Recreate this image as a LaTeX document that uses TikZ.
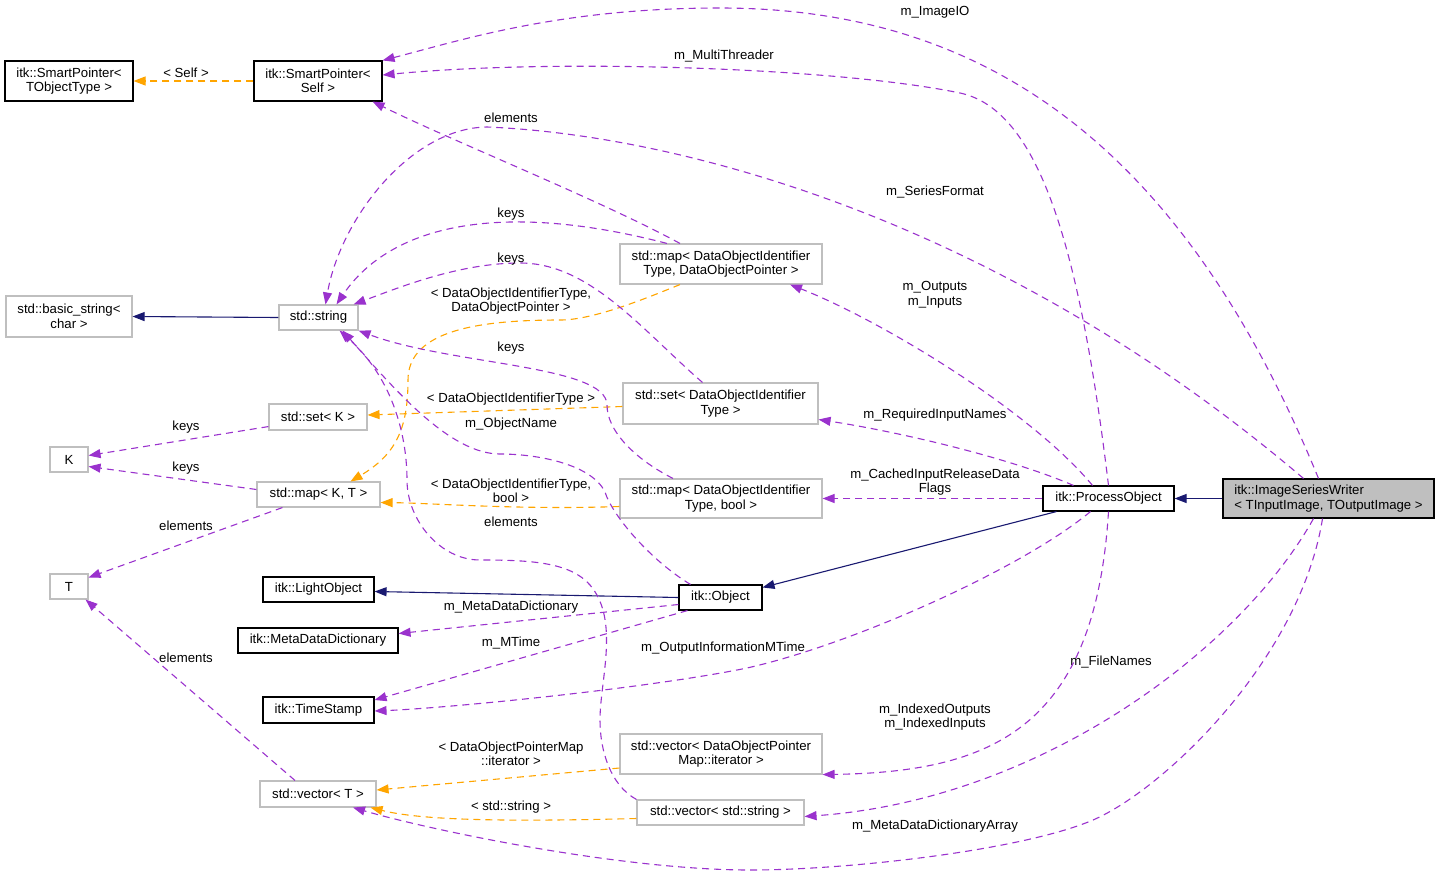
\documentclass[tikz,border=0pt]{standalone}
\usepackage{fontspec}
\setmainfont{Liberation Sans}
\usepackage{xcolor}
\usepackage{tikz}
\usetikzlibrary{arrows.meta,calc}
\definecolor{edgepurple}{HTML}{9A32CD}
\definecolor{edgeorange}{HTML}{FFA500}
\definecolor{edgenavy}{HTML}{191970}
\definecolor{boxgray}{HTML}{BFBFBF}
\newcommand{\dfont}{\fontsize{13.2}{14.5}\selectfont}

\begin{document}
\begin{tikzpicture}[
  x=1pt, y=-1pt,
  cls/.style={rectangle,draw=black,line width=1.1pt,fill=white,inner sep=0pt,align=center,minimum height=25pt,font=\dfont},
  ext/.style={cls,draw=boxgray},
  cur/.style={cls,fill=boxgray,align=left},
  lbl/.style={font=\dfont,align=center,inner sep=0pt},
  useedge/.style={draw=edgepurple,line width=1.1pt,dash pattern=on 7pt off 5pt,-{Triangle[length=12pt,width=9pt]}},
  tmpledge/.style={useedge,draw=edgeorange},
  baseedge/.style={draw=edgenavy,line width=1.1pt,-{Triangle[length=12pt,width=9pt]}}
]
\useasboundingbox (0,0) rectangle (1440,876);

% classes
\node[cls,minimum width=128pt,minimum height=40pt] (SPT) at (69,81) {itk::SmartPointer<\\TObjectType >};
\node[cls,minimum width=128pt,minimum height=40pt] (SPS) at (318,81) {itk::SmartPointer<\\Self >};
\node[ext,minimum width=126pt,minimum height=41pt] (bstr) at (69,316.5) {std::basic\_string<\\char >};
\node[ext,minimum width=79pt] (str) at (318.5,317.5) {std::string};
\node[ext,minimum width=98pt,minimum height=26pt] (setK) at (318,417) {std::set< K >};
\node[ext,minimum width=38pt] (K) at (69,459.5) {K};
\node[ext,minimum width=123pt] (mapKT) at (318.5,494.5) {std::map< K, T >};
\node[ext,minimum width=38pt] (T) at (69,586.5) {T};
\node[cls,minimum width=111pt] (LO) at (318.5,589.5) {itk::LightObject};
\node[cls,minimum width=160pt] (MDD) at (318,640.5) {itk::MetaDataDictionary};
\node[cls,minimum width=111pt,minimum height=26pt] (TS) at (318.5,710) {itk::TimeStamp};
\node[ext,minimum width=116pt,minimum height=26pt] (vecT) at (318,794) {std::vector< T >};
\node[ext,minimum width=202pt,minimum height=40pt] (mapDOP) at (721,264) {std::map< DataObjectIdentifier\\Type, DataObjectPointer >};
\node[ext,minimum width=195pt,minimum height=41pt] (setDOI) at (720.5,403.5) {std::set< DataObjectIdentifier\\Type >};
\node[ext,minimum width=202pt,minimum height=39pt] (mapDOIb) at (721,498.5) {std::map< DataObjectIdentifier\\Type, bool >};
\node[cls,minimum width=83pt] (Obj) at (720.5,597.5) {itk::Object};
\node[ext,minimum width=202pt,minimum height=40pt] (vecDOPM) at (721,754) {std::vector< DataObjectPointer\\Map::iterator >};
\node[ext,minimum width=167pt] (vecStr) at (720.5,812.5) {std::vector< std::string >};
\node[cls,minimum width=131pt] (PO) at (1108.5,498.5) {itk::ProcessObject};
\node[cur,minimum width=211pt,minimum height=39pt] (ISW) at (1328.5,498.5) {itk::ImageSeriesWriter\\< TInputImage, TOutputImage >};

% inheritance
\draw[baseedge] (str.west) -- (bstr.east);
\draw[baseedge] (Obj.west) -- ($(LO.east)+(0,2)$);
\draw[baseedge] ($(PO.south west)+(14,0)$) -- ($(Obj.north east)+(0,3)$);
\draw[baseedge] (ISW.west) -- (PO.east);

% template instances
\draw[tmpledge] (SPS.west) -- (SPT.east) node[lbl] at (186,73) {< Self >};
\draw[tmpledge] ($(setDOI.west)+(0,3)$) -- ($(setK.east)+(0,-2)$) node[lbl] at (511,399) {< DataObjectIdentifierType >};
\draw[tmpledge] ($(mapDOIb.west)+(0,8)$) .. controls (520,510) and (430,503) .. ($(mapKT.east)+(0,8)$) node[lbl] at (511,491) {< DataObjectIdentifierType,\\bool >};
\draw[tmpledge] ($(mapDOP.south)+(-41,0)$) .. controls (635,303) and (590,320) .. (560,320) .. controls (480,320) and (408,330) .. (408,380) .. controls (408,430) and (395,455) .. ($(mapKT.north)+(32,0)$) node[lbl] at (511,301) {< DataObjectIdentifierType,\\DataObjectPointer >};
\draw[tmpledge] ($(vecDOPM.west)+(0,14)$) -- ($(vecT.east)+(0,-4)$) node[lbl] at (511,754) {< DataObjectPointerMap\\::iterator >};
\draw[tmpledge] ($(vecStr.west)+(0,6)$) .. controls (500,822) and (420,820) .. ($(vecT.south east)+(-6,0)$) node[lbl] at (511,807) {< std::string >};

% members
\draw[useedge] ($(ISW.north)+(-10,0)$) .. controls (1180,140) and (980,8) .. (720,8) .. controls (560,8) and (462,40) .. (SPS.north east) node[lbl] at (935,12) {m\_ImageIO};
\draw[useedge] (PO.north) .. controls (1080,250) and (1040,110) .. (960,93) .. controls (840,68) and (560,58) .. ($(SPS.east)+(0,-6)$) node[lbl] at (724,56) {m\_MultiThreader};
\draw[useedge] ($(ISW.north)+(-25,0)$) .. controls (1000,220) and (680,135) .. (487,127) .. controls (410,128) and (340,220) .. ($(str.north)+(7,0)$) node[lbl] at (935,192) {m\_SeriesFormat};
\draw[useedge] ($(mapDOP.north)+(-41,0)$) .. controls (600,200) and (450,140) .. ($(SPS.south east)+(-10,0)$) node[lbl] at (511,118) {elements};
\draw[useedge] ($(mapDOP.north)+(-54,0)$) .. controls (500,200) and (390,225) .. ($(str.north)+(18,0)$) node[lbl] at (511,214) {keys};
\draw[useedge] ($(setDOI.north)+(-18,0)$) .. controls (642,330) and (590,263) .. (520,263) .. controls (460,263) and (400,287) .. ($(str.north east)+(-5,0)$) node[lbl] at (511,259) {keys};
\draw[useedge] ($(mapDOIb.north)+(-48,0)$) .. controls (633,458) and (607,430) .. (607,405) .. controls (607,365) and (450,365) .. (str.south east) node[lbl] at (511,348) {keys};
\draw[useedge] ($(Obj.north)+(-30,0)$) .. controls (650,560) and (612,515) .. (605,492) .. controls (592,465) and (540,454) .. (500,454) .. controls (450,454) and (395,390) .. ($(str.south)+(24,0)$) node[lbl] at (511,424) {m\_ObjectName};
\draw[useedge] (vecStr.north west) .. controls (610,785) and (600,750) .. (600,720) .. controls (600,680) and (620,620) .. (590,585) .. controls (570,562) and (530,560) .. (480,560) .. controls (440,560) and (407,520) .. (407,480) .. controls (407,440) and (395,380) .. ($(str.south)+(21,0)$) node[lbl] at (511,522) {elements};
\draw[useedge] ($(setK.south west)+(0,-4)$) -- ($(K.east)+(0,-4)$) node[lbl] at (186,427) {keys};
\draw[useedge] ($(mapKT.west)+(0,-5)$) -- ($(K.east)+(0,7)$) node[lbl] at (186,468) {keys};
\draw[useedge] ($(mapKT.south west)+(26,0)$) -- ($(T.east)+(0,-9)$) node[lbl] at (186,526) {elements};
\draw[useedge] ($(vecT.north)+(-23,0)$) -- ($(T.south east)+(-3,0)$) node[lbl] at (186,658) {elements};
\draw[useedge] ($(ISW.south)+(-6,0)$) .. controls (1300,660) and (1163,790) .. (1093,820) .. controls (1023,850) and (850,870) .. (750,870) .. controls (620,870) and (430,830) .. ($(vecT.south)+(35,0)$) node[lbl] at (935,826) {m\_MetaDataDictionaryArray};
\draw[useedge] ($(ISW.south)+(-15,0)$) .. controls (1240,650) and (1040,800) .. ($(vecStr.east)+(0,4)$) node[lbl] at (1111,662) {m\_FileNames};
\draw[useedge] (PO.south) .. controls (1095,730) and (990,772) .. (vecDOPM.south east) node[lbl] at (935,717) {m\_IndexedOutputs\\m\_IndexedInputs};
\draw[useedge] ($(PO.south)+(-18,0)$) .. controls (1020,570) and (850,645) .. (747,668) .. controls (650,688) and (450,708) .. ($(TS.east)+(0,1)$) node[lbl] at (723,648) {m\_OutputInformationMTime};
\draw[useedge] ($(Obj.south)+(-33,0)$) -- ($(TS.east)+(0,-10)$) node[lbl] at (511,643) {m\_MTime};
\draw[useedge] ($(Obj.west)+(0,7)$) -- ($(MDD.east)+(0,-7)$) node[lbl] at (511,607) {m\_MetaDataDictionary};
\draw[useedge] ($(PO.north)+(-16,0)$) .. controls (1030,410) and (880,320) .. ($(mapDOP.south)+(69,0)$) node[lbl] at (935,295) {m\_Outputs\\m\_Inputs};
\draw[useedge] ($(PO.north)+(-35,0)$) .. controls (1010,458) and (900,432) .. ($(setDOI.east)+(0,16)$) node[lbl] at (935,415) {m\_RequiredInputNames};
\draw[useedge] (PO.west) -- (mapDOIb.east) node[lbl] at (935,482) {m\_CachedInputReleaseData\\Flags};
\end{tikzpicture}
\end{document}
